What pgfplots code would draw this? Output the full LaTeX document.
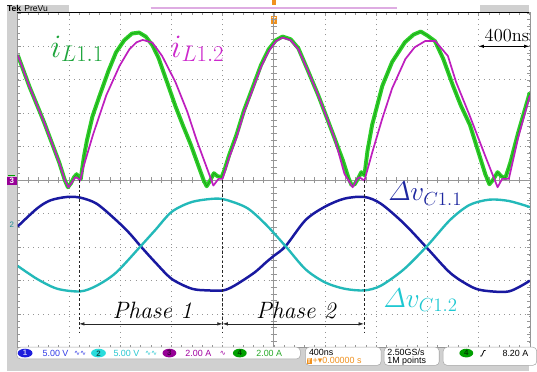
\documentclass[border=0pt]{standalone}
\usepackage{amsmath}
\usepackage{fontspec}
\usepackage{pgfplots}
\pgfplotsset{compat=1.18}
\usetikzlibrary{arrows.meta}
\newfontfamily\uifont{Liberation Sans}
\newfontfamily\symfont{DejaVu Sans}

\definecolor{scgreen}{RGB}{45,205,40}
\definecolor{scgreendk}{RGB}{0,110,0}
\definecolor{scmag}{RGB}{190,30,190}
\definecolor{scblue}{RGB}{25,25,160}
\definecolor{sccyan}{RGB}{35,185,185}
\definecolor{uigray}{RGB}{208,208,208}
\definecolor{gridgray}{RGB}{150,150,150}
\definecolor{trigorange}{RGB}{240,145,30}
\definecolor{lblgreen}{RGB}{30,165,60}
\definecolor{lblmag}{RGB}{205,40,205}
\definecolor{lblblue}{RGB}{30,40,160}
\definecolor{lblcyan}{RGB}{30,200,210}
\definecolor{ch1}{RGB}{30,30,220}
\definecolor{ch1t}{RGB}{50,60,230}
\definecolor{ch2}{RGB}{40,220,220}
\definecolor{ch2t}{RGB}{40,200,210}
\definecolor{ch3}{RGB}{150,0,150}
\definecolor{ch3t}{RGB}{160,0,160}
\definecolor{ch4}{RGB}{0,160,0}
\definecolor{ch4t}{RGB}{40,170,40}
\definecolor{recbar}{RGB}{222,172,226}

\begin{document}
\begin{tikzpicture}
% ---------- instrument frame (1 unit = 1 screen pixel, y pointing down)
\begin{scope}[x=0.75pt,y=-0.75pt]
  \useasboundingbox (0,0) rectangle (537,377);
  \fill[white] (0,0) rectangle (537,377);
  \fill[uigray] (7,5) rectangle (17,377);
  \fill[uigray] (7,352) rectangle (537,377);
  \fill[uigray] (7,5) rectangle (70,13);
  \fill[uigray] (487,5) rectangle (537,13);
  \node[anchor=base west,inner sep=0,font=\uifont\bfseries\fontsize{6.5}{7}\selectfont] at (7,11.6) {Tek};
  \node[anchor=base west,inner sep=0,font=\uifont\fontsize{6.5}{7}\selectfont] at (24.5,11.6) {PreVu};
  \draw[recbar,line width=1.3pt] (153,8) -- (403,8);
  % trigger position
  \fill[trigorange] (276,0) rectangle (280.5,5);
  \fill[trigorange] (275,16) rectangle (281.5,24.5);
  \node[inner sep=0,text=white,font=\uifont\bfseries\fontsize{5.5}{6}\selectfont] at (278.2,20.3) {T};
  % channel ground markers
  \draw[ch4,line width=0.8pt] (8,178.5) -- (15,178.5);
  \fill[ch3] (7,179.5) rectangle (17,187.5);
  \node[inner sep=0,text=white,font=\uifont\bfseries\fontsize{6}{6}\selectfont] at (12,183.5) {3};
  \node[inner sep=0,text=ch2t!70!black,font=\uifont\fontsize{6}{6}\selectfont] at (12,228) {2};
\end{scope}

% ---------- screen: 10 x 10 divisions
\begin{axis}[
  at={(13.5pt,-9.75pt)}, anchor=north west,
  width=390pt, height=255pt, scale only axis,
  xmin=0, xmax=10, ymin=-5, ymax=5,
  xtick={0,...,10}, ytick={-5,...,5},
  minor x tick num=4, minor y tick num=4,
  xticklabels={}, yticklabels={},
  tick align=inside, major tick length=2.4pt, minor tick length=1.8pt,
  tick style={gridgray,line width=0.4pt},
  grid=major,
  major grid style={gridgray,line width=0.6pt,dash pattern=on 0.6pt off 3.3pt},
  axis line style={gridgray,line width=0.5pt},
  clip=true,
]
% centre graticule with fine ticks
\draw[gridgray,line width=0.6pt] (axis cs:0,0) -- (axis cs:10,0);
\draw[gridgray,line width=0.6pt] (axis cs:5,-5) -- (axis cs:5,5);
\pgfplotsinvokeforeach{0.2,0.4,...,9.9}{\draw[gridgray,line width=0.5pt] (axis cs:#1,-0.09) -- (axis cs:#1,0.09);}
\pgfplotsinvokeforeach{-4.8,-4.6,...,4.9}{\draw[gridgray,line width=0.5pt] (axis cs:4.94,#1) -- (axis cs:5.06,#1);}

% capacitor voltage ripples (div)
\addplot[scblue,line width=1.9pt,smooth,tension=0.5] coordinates {
(0,-1.38) (0.38,-0.84) (0.64,-0.60) (0.96,-0.50) (1.22,-0.52) (1.54,-0.70)
(1.92,-1.19) (2.18,-1.58) (2.40,-1.97) (2.69,-2.46) (3.01,-2.95) (3.40,-3.24)
(3.72,-3.29) (4.01,-3.29) (4.23,-3.15) (4.62,-2.76) (4.85,-2.45) (5.00,-2.26)
(5.23,-1.97) (5.62,-1.19) (6.00,-0.79) (6.38,-0.55) (6.77,-0.50) (7.09,-0.70)
(7.54,-1.29) (7.99,-2.02) (8.44,-2.76) (8.82,-3.15) (9.08,-3.29) (9.59,-3.32)
(10,-3.00)};
\addplot[sccyan,line width=1.8pt,smooth,tension=0.5] coordinates {
(0,-2.56) (0.38,-2.95) (0.77,-3.24) (1.22,-3.32) (1.54,-3.15) (1.92,-2.76)
(2.40,-1.97) (2.69,-1.48) (3.01,-0.94) (3.40,-0.65) (3.85,-0.55) (4.10,-0.60)
(4.49,-0.84) (4.85,-1.33) (5.23,-1.97) (5.62,-2.66) (6.00,-3.05) (6.38,-3.24)
(6.77,-3.29) (7.09,-3.15) (7.54,-2.66) (7.99,-1.97) (8.44,-1.19) (8.82,-0.74)
(9.21,-0.58) (9.59,-0.62) (10,-0.80)};

% inductor current i_L1.1 (ch4)
\addplot[scgreen,line width=3.0pt,line join=round,
  postaction={draw=scgreendk,line width=0.5pt,opacity=0.45}] coordinates {
(0,3.74) (0.23,2.79) (0.52,1.71) (0.81,0.53) (0.92,0.00) (0.98,-0.21) (1.04,-0.09)
(1.10,0.09) (1.15,0.18) (1.19,0.09) (1.23,0.03) (1.29,0.68) (1.35,1.18) (1.46,1.91)
(1.60,2.53) (1.77,3.26) (1.92,3.82) (2.08,4.18) (2.23,4.38) (2.37,4.41) (2.50,4.29)
(2.63,4.03) (2.75,3.65) (2.92,2.91) (3.08,2.21) (3.23,1.62) (3.38,1.06) (3.54,0.38)
(3.63,0.00) (3.69,-0.18) (3.75,-0.03) (3.83,0.21) (3.90,0.12) (3.98,0.09) (4.04,0.32)
(4.13,0.76) (4.27,1.35) (4.42,2.09) (4.60,2.82) (4.75,3.44) (4.90,3.91) (5.04,4.18)
(5.17,4.29) (5.33,4.21) (5.48,3.94) (5.67,3.26) (5.87,2.53) (6.04,1.85) (6.19,1.24)
(6.35,0.59) (6.46,0.06) (6.52,-0.15) (6.58,-0.12) (6.65,0.06) (6.71,0.24) (6.77,0.15)
(6.83,0.88) (6.92,1.65) (7.12,2.82) (7.31,3.53) (7.56,4.12) (7.73,4.35) (7.87,4.44)
(8.00,4.32) (8.15,4.15) (8.31,3.62) (8.50,2.82) (8.65,2.24) (8.83,1.65) (9.00,0.82)
(9.13,0.18) (9.21,-0.12) (9.29,0.03) (9.37,0.24) (9.44,0.12) (9.52,0.06) (9.62,0.53)
(9.77,1.41) (10,2.62)};

% inductor current i_L1.2 (ch3)
\addplot[scmag,line width=1.3pt,line join=round] coordinates {
(0,3.74) (0.23,2.79) (0.52,1.71) (0.81,0.53) (0.92,0.00) (0.99,-0.21) (1.06,-0.06)
(1.12,0.09) (1.17,0.06) (1.22,-0.01) (1.28,0.38) (1.47,1.36) (1.73,2.54) (1.99,3.42)
(2.18,3.91) (2.32,4.12) (2.44,4.19) (2.63,4.11) (2.82,3.71) (3.08,2.93) (3.31,2.05)
(3.50,1.17) (3.69,0.38) (3.82,-0.16) (3.92,0.04) (4.00,0.04) (4.13,0.68) (4.27,1.26)
(4.42,2.03) (4.60,2.76) (4.75,3.38) (4.90,3.85) (5.04,4.15) (5.17,4.26) (5.33,4.18)
(5.48,3.91) (5.67,3.26) (5.87,2.53) (6.04,1.85) (6.19,1.24) (6.38,0.19) (6.54,-0.21)
(6.63,0.04) (6.67,0.09) (6.77,-0.01) (6.93,0.87) (7.12,1.85) (7.31,2.74) (7.57,3.62)
(7.75,3.97) (7.96,4.16) (8.15,4.16) (8.40,3.71) (8.56,2.93) (8.82,1.95) (9.14,0.68)
(9.37,-0.21) (9.46,0.04) (9.59,0.04) (9.77,1.26) (10,2.53)};

% phase boundaries
\draw[black!85,line width=0.5pt,dash pattern=on 2pt off 1.6pt] (axis cs:1.20,0) -- (axis cs:1.20,-4.56);
\draw[black!85,line width=0.5pt,dash pattern=on 2pt off 1.6pt] (axis cs:4.00,0) -- (axis cs:4.00,-4.56);
\draw[black!85,line width=0.5pt,dash pattern=on 2pt off 1.6pt] (axis cs:6.76,0) -- (axis cs:6.76,-4.56);
\draw[black!85,line width=0.5pt,{Latex[length=4pt,width=2.6pt]}-{Latex[length=4pt,width=2.6pt]}] (axis cs:1.20,-4.29) -- (axis cs:4.00,-4.29);
\draw[black!85,line width=0.5pt,{Latex[length=4pt,width=2.6pt]}-{Latex[length=4pt,width=2.6pt]}] (axis cs:4.00,-4.29) -- (axis cs:6.76,-4.29);
\node[anchor=base,inner sep=0,font=\fontsize{18}{21}\selectfont] at (axis cs:2.63,-4.12) {\textit{Phase 1}};
\node[anchor=base,inner sep=0,font=\fontsize{18}{21}\selectfont] at (axis cs:5.44,-4.12) {\textit{Phase 2}};

% time scale marker
\draw[black,line width=0.5pt,{Latex[length=4pt,width=2.6pt]}-{Latex[length=4pt,width=2.6pt]}] (axis cs:9.0,4.0) -- (axis cs:9.99,4.0);
\node[anchor=base,inner sep=0,font=\fontsize{14}{16}\selectfont] at (axis cs:9.55,4.15) {400ns};

% trace labels
\node[anchor=base west,inner sep=0,text=lblgreen,font=\fontsize{23}{26}\selectfont] at (axis cs:0.63,3.68) {$i_{L1.1}$};
\node[anchor=base west,inner sep=0,text=lblmag,font=\fontsize{23}{26}\selectfont] at (axis cs:2.98,3.68) {$i_{L1.2}$};
\node[anchor=base west,inner sep=0,text=lblblue,font=\fontsize{20}{23}\selectfont] at (axis cs:7.23,-0.62) {$\varDelta v_{C1.1}$};
\node[anchor=base west,inner sep=0,text=lblcyan,font=\fontsize{20}{23}\selectfont] at (axis cs:7.14,-3.79) {$\varDelta v_{C1.2}$};
\end{axis}

% ---------- status bar and top border
\begin{scope}[x=0.75pt,y=-0.75pt]
  \draw[black,line width=0.8pt] (17,13) -- (537,13);
  \tikzset{ui/.style={anchor=base west,inner sep=0,font=\uifont\fontsize{6.8}{7}\selectfont}}
  \draw[gray!70,fill=white,rounded corners=3pt] (17,352.5) rectangle (305,364.5);
  \fill[ch1] (25.5,358.5) ellipse (7.5 and 4.4);
  \node[inner sep=0,text=white!75!ch1,font=\uifont\bfseries\fontsize{6}{6}\selectfont] at (25.5,358.7) {1};
  \node[ui,text=ch1t] at (43,361.6) {5.00 V};
  \node[ui,text=ch1t,font=\symfont\fontsize{5.5}{6}\selectfont] at (75,361.3) {∿∿};
  \fill[ch2] (100,358.5) ellipse (7.5 and 4.4);
  \node[inner sep=0,text=ch2!40!black,font=\uifont\bfseries\fontsize{6}{6}\selectfont] at (100,358.7) {2};
  \node[ui,text=ch2t] at (115,361.6) {5.00 V};
  \node[ui,text=ch2t,font=\symfont\fontsize{5.5}{6}\selectfont] at (147,361.3) {∿∿};
  \fill[ch3] (172,358.5) ellipse (7 and 4.4);
  \node[inner sep=0,text=ch3!40!black,font=\uifont\bfseries\fontsize{6}{6}\selectfont] at (172,358.7) {3};
  \node[ui,text=ch3t] at (188,361.6) {2.00 A};
  \node[ui,text=ch3t,font=\symfont\fontsize{5.5}{6}\selectfont] at (223,361.3) {∿};
  \fill[ch4] (243.5,358.5) ellipse (7 and 4.4);
  \node[inner sep=0,text=ch4!40!black,font=\uifont\bfseries\fontsize{6}{6}\selectfont] at (243.5,358.7) {4};
  \node[ui,text=ch4t] at (260,361.6) {2.00 A};

  \draw[gray!70,fill=white,rounded corners=3pt] (310,352.5) rectangle (387,371);
  \node[ui] at (313.5,361.2) {400ns};
  \fill[trigorange] (311.5,363.6) rectangle (316.5,369.6);
  \node[inner sep=0,text=white,font=\uifont\bfseries\fontsize{5}{5}\selectfont] at (314,366.8) {T};
  \node[ui,text=trigorange] at (317.2,369.4) {+{\symfont▾}0.00000 s};

  \draw[gray!70,fill=white,rounded corners=3pt] (390,352.5) rectangle (446,371);
  \node[ui] at (393,361.2) {2.50GS/s};
  \node[ui] at (393,369.4) {1M points};

  \draw[gray!70,fill=white,rounded corners=3pt] (450,352.5) rectangle (545,371);
  \fill[ch4] (473.5,358.5) ellipse (7 and 4.4);
  \node[inner sep=0,text=ch4!40!black,font=\uifont\bfseries\fontsize{6}{6}\selectfont] at (473.5,358.7) {4};
  \draw[black,line width=0.6pt] (487.5,361.5) -- (489,361.5) -- (491.5,356) -- (493,356);
  \node[ui] at (510,361.6) {8.20 A};
\end{scope}
\end{tikzpicture}
\end{document}
